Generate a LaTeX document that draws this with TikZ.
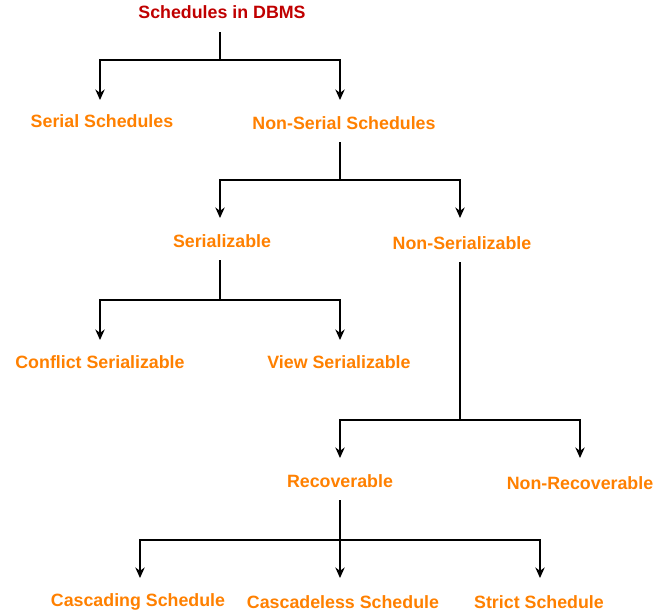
\documentclass[tikz,border=0pt]{standalone}
\usepackage{fontspec}
\setmainfont{Liberation Sans}
\usetikzlibrary{arrows.meta}
\definecolor{titlered}{HTML}{C00000}
\definecolor{kindorange}{HTML}{FF8000}
\tikzset{
	kind/.style={text=kindorange, font=\bfseries\fontsize{15.2}{17}\selectfont, inner sep=1pt},
	stem/.style={line width=1.4pt},
	branch/.style={line width=1.4pt, -{Stealth[length=9pt,width=8pt]}}
}
\begin{document}
\begin{tikzpicture}[x=0.03cm, y=-0.03cm]
		\useasboundingbox (0,0) rectangle (666,612);
		\node[kind, text=titlered](top) at (222,12) {Schedules in DBMS};
		\node[kind](ser) at (102,121) {Serial Schedules};
		\node[kind](nser) at (344,123) {Non-Serial Schedules};
		\node[kind](sz) at (222,241) {Serializable};
		\node[kind](nsz) at (462,243) {Non-Serializable};
		\node[kind](csz) at (100,362) {Conflict Serializable};
		\node[kind](vsz) at (339,362) {View Serializable};
		\node[kind](rec) at (340,481) {Recoverable};
		\node[kind](nrec) at (580,483) {Non-Recoverable};
		\node[kind](casc) at (138,602) {Cascading Schedule};
		\node[kind](cless) at (343,602) {Cascadeless Schedule};
		\node[kind](strict) at (539,602) {Strict Schedule};
		\coordinate (j1) at (220,60);
		\coordinate (j2) at (340,180);
		\coordinate (j3) at (220,300);
		\coordinate (j4) at (460,420);
		\coordinate (j5) at (340,540);
		\draw [stem] (220,32) -- (j1);
		\draw [branch] (j1) -| (100,100);
		\draw [branch] (j1) -| (340,100);
		\draw [stem] (340,142) -- (j2);
		\draw [branch] (j2) -| (220,218);
		\draw [branch] (j2) -| (460,218);
		\draw [stem] (220,260) -- (j3);
		\draw [branch] (j3) -| (100,340);
		\draw [branch] (j3) -| (340,340);
		\draw [stem] (460,262) -- (j4);
		\draw [branch] (j4) -| (340,458);
		\draw [branch] (j4) -| (580,458);
		\draw [stem] (340,500) -- (j5);
		\draw [branch] (j5) -| (140,578);
		\draw [branch] (j5) -- (340,578);
		\draw [branch] (j5) -| (540,578);
	\end{tikzpicture}
\end{document}
